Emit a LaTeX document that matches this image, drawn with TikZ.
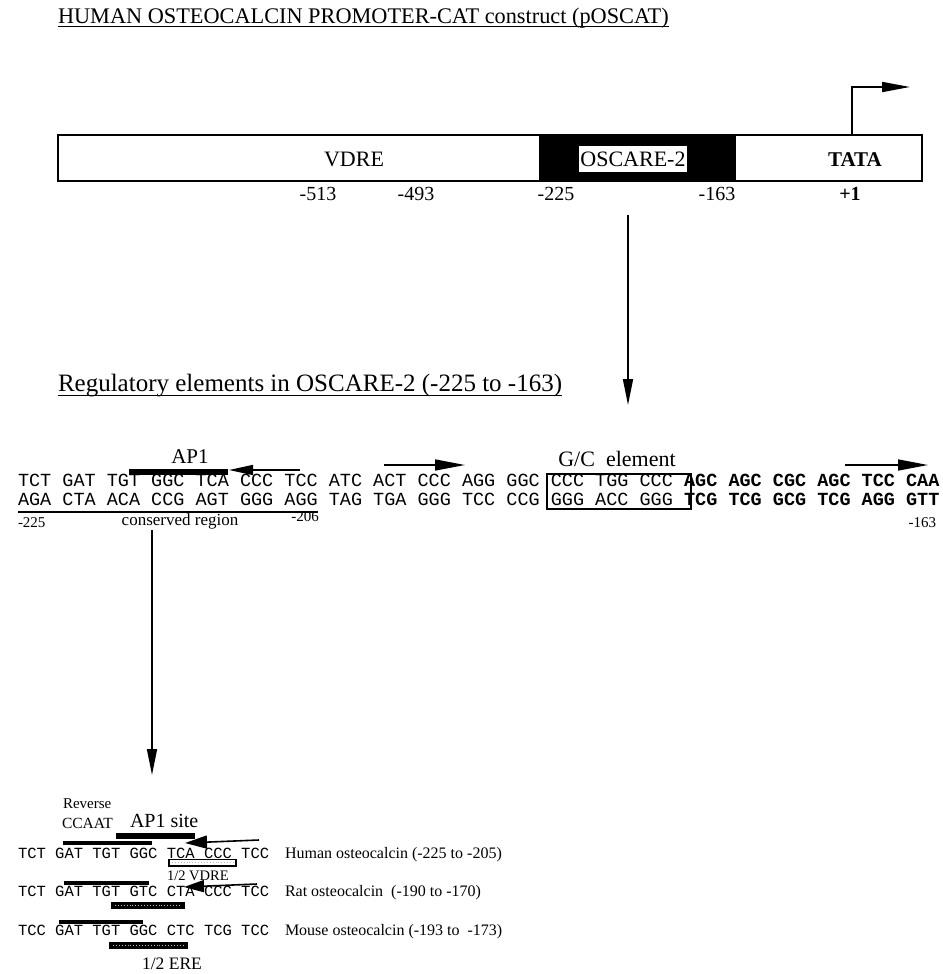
\documentclass[tikz,border=0pt]{standalone}
\usepackage{fontspec}
\setmainfont{Liberation Serif}
\newfontfamily\seqfont{Liberation Mono}
\usetikzlibrary{arrows.meta}
\newcommand\myfs[1]{\fontsize{#1}{#1}\selectfont}
\begin{document}
\begin{tikzpicture}[x=1pt,y=-1pt,
  every node/.style={inner sep=0pt,outer sep=0pt},
  txt/.style={anchor=base west},
  ctxt/.style={anchor=base},
  thin arrow/.style={line width=1.6pt,-{Triangle[length=26pt,width=10pt]}},
  big arrow/.style={line width=1.6pt,-{Triangle[length=22pt,width=13pt]}},
  site bar/.style={line width=6pt},
  motif line/.style={line width=3.5pt},
  dotsin/.style={gray!55,dotted,line width=0.9pt}]
\useasboundingbox (0,0) rectangle (942,974);
\fill[white] (0,0) rectangle (942,974);

% ---------- title ----------
\node[txt] (title) at (58,24) {\myfs{22.3}HUMAN OSTEOCALCIN PROMOTER-CAT construct (pOSCAT)};
\draw[line width=1pt] ([yshift=-3pt]title.base west) -- ([yshift=-3pt]title.base east);

% ---------- promoter bar ----------
\draw[line width=1.6pt] (58,135) rectangle (922,181);
\fill[black] (539,135) rectangle (736,181);
\node[fill=white,minimum width=108pt,minimum height=26pt] (osc) at (633,159) {\myfs{22}OSCARE-2};
\node[ctxt] (vdre) at (354,166) {\myfs{22}VDRE};
\node[ctxt] (tata) at (855,166) {\myfs{21}\bfseries TATA};
\node[ctxt] (n513) at (318,200) {\myfs{20}-513};
\node[ctxt] (n493) at (416,200) {\myfs{20}-493};
\node[ctxt] (n225) at (556,200) {\myfs{20}-225};
\node[ctxt] (n163) at (717,200) {\myfs{20}-163};
\node[ctxt] (p1) at (850,200) {\myfs{20}\bfseries +1};
\coordinate (tss) at (852,135);
\coordinate (tssTop) at (852,87);
\coordinate (tssTip) at (910,87);
\draw[line width=1.8pt,-{Triangle[length=28pt,width=10pt]}] (tss) -- (tssTop) -- (tssTip);

% ---------- arrow down ----------
\coordinate (a1s) at (628,215);
\coordinate (a1e) at (628,405);
\draw[thin arrow] (a1s) -- (a1e);

% ---------- regulatory elements ----------
\node[txt] (reg) at (58,391) {\myfs{25}Regulatory elements in OSCARE-2 (-225 to -163)};
\draw[line width=1pt] ([yshift=-4pt]reg.base west) -- ([yshift=-4pt]reg.base east);

\node[ctxt] (ap1) at (190,463) {\myfs{21}AP1};
\node[ctxt] (gc) at (617,466) {\myfs{22}G/C\ \ element};

\node[txt] (top) at (18,486) {\myfs{18.5}\seqfont TCT GAT TGT GGC TCA CCC TCC ATC ACT CCC AGG GGC CCC TGG CCC {\bfseries AGC AGC CGC AGC TCC CAA}};
\node[txt] (bot) at (18,505) {\myfs{18.5}\seqfont AGA CTA ACA CCG AGT GGG AGG TAG TGA GGG TCC CCG GGG ACC GGG {\bfseries TCG TCG GCG TCG AGG GTT}};

% AP1 bar and arrows
\coordinate (ap1a) at (129,472);
\coordinate (ap1b) at (228,472);
\draw[site bar] (ap1a) -- (ap1b);
\coordinate (ar0s) at (300,470);
\coordinate (ar0e) at (229,470);
\draw[thin arrow,-{Triangle[length=24pt,width=10pt]}] (ar0s) -- (ar0e);
\coordinate (ar1s) at (384,465);
\coordinate (ar1e) at (465,465);
\draw[thin arrow,-{Triangle[length=30pt,width=11pt]}] (ar1s) -- (ar1e);
\coordinate (ar2s) at (845,465);
\coordinate (ar2e) at (928,465);
\draw[thin arrow,-{Triangle[length=30pt,width=11pt]}] (ar2s) -- (ar2e);
% G/C box
\draw[line width=1.5pt] (547,474) rectangle (691,509);

% conserved region
\coordinate (cr1) at (18,512);
\coordinate (cr2) at (318,512);
\draw[line width=2pt] (cr1) -- (cr2);
\node[txt] (m225) at (18,527) {\myfs{15}-225};
\node[ctxt] (cons) at (180,525) {\myfs{17}conserved region};
\node[ctxt] (m206) at (305,521) {\myfs{15}-206};
\node[anchor=base east] (m163) at (936,527) {\myfs{15}-163};

% ---------- second arrow ----------
\coordinate (a2s) at (152,530);
\coordinate (a2e) at (152,775);
\draw[thin arrow] (a2s) -- (a2e);

% ---------- species comparison ----------
\node[txt] (rev) at (63,808) {\myfs{15}Reverse};
\node[txt] (ccaat) at (62,828) {\myfs{15.5}CCAAT};
\node[txt] (ap1s) at (130,827) {\myfs{20}AP1 site};

\node[txt] (hum) at (18,858) {\myfs{15.5}\seqfont TCT GAT TGT GGC TCA CCC TCC};
\node[txt] (rat) at (18,896) {\myfs{15.5}\seqfont TCT GAT TGT GTC CTA CCC TCC};
\node[txt] (mou) at (18,935) {\myfs{15.5}\seqfont TCC GAT TGT GGC CTC TCG TCC};

\node[txt] (humL) at (285,858) {\myfs{16}Human osteocalcin (-225 to -205)};
\node[txt] (ratL) at (285,896) {\myfs{16}Rat osteocalcin\ \ (-190 to -170)};
\node[txt] (mouL) at (285,935) {\myfs{16}Mouse osteocalcin (-193 to\ \ -173)};

% human marks
\coordinate (hc1) at (63,843);
\coordinate (hc2) at (152,843);
\draw[motif line] (hc1) -- (hc2);
\coordinate (hb1) at (116,836);
\coordinate (hb2) at (195,836);
\draw[site bar] (hb1) -- (hb2);
\coordinate (hrs) at (259,840);
\coordinate (hre) at (185,843);
\draw[big arrow] (hrs) -- (hre);
\draw[line width=1.2pt,fill=white] (169,859.5) rectangle (236,866);
\draw[dotsin] (172,862.7) -- (233,862.7);
\node[txt] (vdreh) at (167,880) {\myfs{14.5}1/2 VDRE};

% rat marks
\coordinate (rc1) at (64,883);
\coordinate (rc2) at (149,883);
\draw[motif line] (rc1) -- (rc2);
\coordinate (rrs) at (257,884);
\coordinate (rre) at (184,887);
\draw[big arrow,-{Triangle[length=20pt,width=12pt]}] (rrs) -- (rre);
\fill[black] (111,902) rectangle (185,909);
\draw[dotsin] (115,905.5) -- (181,905.5);

% mouse marks
\coordinate (mc1) at (59,922);
\coordinate (mc2) at (143,922);
\draw[motif line] (mc1) -- (mc2);
\fill[black] (109,942) rectangle (188,949);
\draw[dotsin] (113,945.5) -- (184,945.5);
\node[ctxt] (ere) at (172,969) {\myfs{17.5}1/2 ERE};
\end{tikzpicture}
\end{document}
